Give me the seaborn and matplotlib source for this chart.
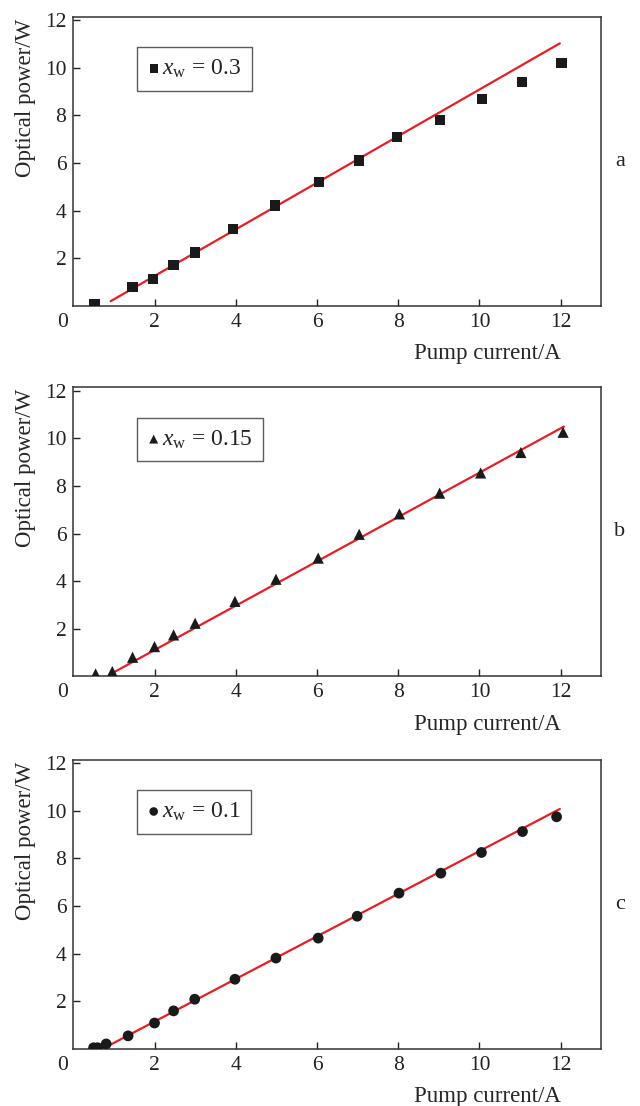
import numpy as np
import pandas as pd
import matplotlib
matplotlib.use('Agg')
import matplotlib.pyplot as plt
import matplotlib.transforms as mtransforms
import seaborn as sns

# data
a_current = [0.52, 1.46, 1.97, 2.47, 2.99, 3.93, 4.96, 6.05, 7.03, 7.97, 9.03, 10.06, 11.04, 12.02]
a_power = [0.05, 0.78, 1.12, 1.71, 2.24, 3.21, 4.21, 5.21, 6.11, 7.08, 7.81, 8.68, 9.40, 10.21]
a_fit_x = [0.92, 11.98]
a_fit_y = [0.19, 11.03]

b_current = [0.55, 0.96, 1.46, 2.0, 2.47, 3.0, 3.98, 4.99, 6.03, 7.04, 8.03, 9.02, 10.03, 11.02, 12.06]
b_power = [0.1, 0.2, 0.8, 1.25, 1.74, 2.23, 3.15, 4.08, 4.97, 5.97, 6.83, 7.7, 8.55, 9.41, 10.26]
b_fit_x = [1.03, 12.08]
b_fit_y = [0.2, 10.5]

c_current = [0.5, 0.6, 0.81, 1.35, 2.0, 2.47, 2.99, 3.98, 4.99, 6.03, 6.99, 8.02, 9.05, 10.05, 11.06, 11.9]
c_power = [0.04, 0.04, 0.2, 0.54, 1.08, 1.59, 2.08, 2.92, 3.81, 4.65, 5.57, 6.54, 7.38, 8.25, 9.13, 9.75]
c_fit_x = [0.86, 11.98]
c_fit_y = [0.12, 10.08]

labels = ['0.3', '0.15', '0.1']
markers = ['s', '^', 'o']
marker_sizes = [55, 65, 60]
panel_tags = ['a', 'b', 'c']

sns.set_theme(style='white')
plt.rcParams['font.family'] = ['Liberation Serif', 'DejaVu Serif']
plt.rcParams['mathtext.fontset'] = 'custom'
plt.rcParams['mathtext.rm'] = 'Liberation Serif'
plt.rcParams['mathtext.it'] = 'Liberation Serif:italic'
plt.rcParams['text.color'] = '#222222'

fig = plt.figure(figsize=(6.4, 11.06), dpi=100)
bottoms = [0.7236, 0.3885, 0.0518]
panels = [
    (a_current, a_power, a_fit_x, a_fit_y),
    (b_current, b_power, b_fit_x, b_fit_y),
    (c_current, c_power, c_fit_x, c_fit_y),
]

for i, (cur, pw, fx, fy) in enumerate(panels):
    ax = fig.add_axes([0.1145, bottoms[i], 0.825, 0.2613])
    pts = pd.DataFrame({'current': cur, 'power': pw})
    fit = pd.DataFrame({'current': fx, 'power': fy})
    sns.lineplot(data=fit, x='current', y='power', ax=ax, color='#e41f25', lw=1.6, zorder=2)
    sns.scatterplot(data=pts, x='current', y='power', ax=ax, marker=markers[i],
                    s=marker_sizes[i], color='#1a1a1a', edgecolor='none',
                    zorder=3, label=r'$x_{\rm w}$ = ' + labels[i])

    ax.set_xlim(0, 13)
    ax.set_ylim(0, 12.15)
    ax.set_xticks([0, 2, 4, 6, 8, 10, 12])
    ax.set_yticks([2, 4, 6, 8, 10, 12])
    ax.tick_params(direction='in', length=5, width=1, colors='#222222', labelsize=15.5,
                   top=False, right=False, bottom=True, left=True, pad=5)
    t0 = ax.xaxis.get_major_ticks()[0]
    t0.tick1line.set_visible(False)
    t0.label1.set_transform(t0.label1.get_transform() +
                            mtransforms.ScaledTranslation(-11 / 100, 0, fig.dpi_scale_trans))
    for sp in ax.spines.values():
        sp.set_color('#333333')
        sp.set_linewidth(1.1)

    ax.set_xlabel('Pump current/A', fontsize=16.5)
    ax.set_ylabel('Optical power/W', fontsize=16.5, va='center')
    ax.xaxis.set_label_coords(0.785, -0.13)
    ax.yaxis.set_label_coords(-0.09, 0.72)

    leg = ax.legend(loc='upper left', bbox_to_anchor=(0.121, 0.895), frameon=True,
                    fancybox=False, fontsize=17, handletextpad=0.1, handlelength=0.5,
                    borderpad=0.45, borderaxespad=0.0, markerscale=0.8)
    leg.get_frame().set_edgecolor('#333333')
    leg.get_frame().set_linewidth(1.0)

    ax.text(1.035, 0.5, panel_tags[i], transform=ax.transAxes, fontsize=16,
            ha='center', va='center')

fig.savefig('out.png', dpi=100)
